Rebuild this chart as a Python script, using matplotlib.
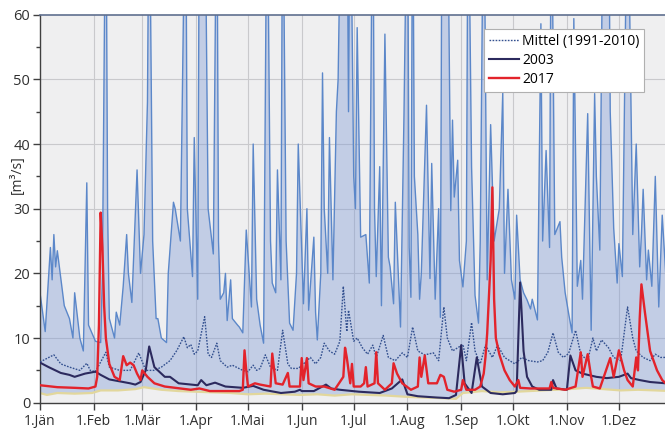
import matplotlib
matplotlib.use("Agg")
import matplotlib.pyplot as plt
from matplotlib.ticker import MultipleLocator

# ---------------- data (day of year, m3/s) ----------------
max_days = [0, 3, 6, 7, 8, 9, 10, 14, 17, 19,
            20, 23, 25, 27, 28, 32, 35, 36, 38, 39,
            40, 43, 44, 46, 48, 50, 51, 53, 56, 58,
            60, 62, 63, 65, 67, 68, 70, 73, 74, 77,
            78, 81, 84, 85, 88, 89, 91, 92, 95, 97,
            100, 102, 103, 104, 106, 107, 108, 110, 111, 114,
            115, 117, 119, 122, 123, 125, 127, 129, 131, 133,
            134, 136, 137, 139, 140, 142, 144, 146, 148, 149,
            152, 154, 155, 158, 159, 160, 162, 163, 164, 166,
            167, 169, 171, 172, 174, 177, 178, 179, 181, 182,
            183, 185, 188, 190, 192, 193, 194, 196, 197, 199,
            201, 202, 204, 205, 207, 208, 210, 212, 213, 214,
            215, 216, 218, 219, 220, 223, 225, 226, 228, 230,
            231, 232, 235, 237, 238, 239, 241, 242, 244, 246,
            247, 249, 251, 253, 254, 256, 258, 260, 262, 265,
            267, 268, 270, 272, 274, 275, 277, 279, 281, 283,
            284, 287, 289, 290, 292, 294, 295, 297, 300, 301,
            303, 305, 307, 308, 310, 312, 313, 316, 318, 320,
            321, 323, 325, 328, 329, 331, 333, 334, 336, 339,
            342, 344, 346, 347, 348, 350, 351, 353, 355, 357,
            359, 361, 364]
max_vals = [17, 11, 24, 19, 26, 21, 23.5, 15, 13, 10,
            17, 10, 8, 34, 12, 9.5, 9.3, 20, 85, 30,
            13, 10, 14, 12, 18, 26, 20, 15.5, 36, 20,
            26, 46.5, 85, 25, 13, 13, 10, 9.3, 20, 31,
            30, 25, 85, 30, 19.5, 41, 16, 85, 85, 30,
            23, 85, 25, 16, 17, 20, 12.7, 19, 13, 12,
            11.7, 10.8, 26.7, 14.8, 40, 16, 12, 9.2, 85, 25,
            18.5, 17, 36, 19, 85, 25, 12.3, 11.2, 20, 40,
            15.3, 30, 14.3, 25.6, 14, 9.7, 20, 51, 30, 20,
            41, 19, 45, 50, 85, 85, 45, 85, 35, 30,
            58, 25.6, 26, 18.5, 85, 30, 19.5, 36.5, 15, 57,
            22.5, 21, 15.3, 31, 18, 11.7, 44.5, 85, 24, 16.3,
            85, 35, 26, 16, 20, 46, 19.2, 37, 16, 30,
            13.2, 85, 85, 29.7, 43.7, 31.8, 37.5, 22, 17.9, 25,
            85, 36.5, 16.6, 12.3, 25, 85, 19, 43, 25, 30,
            48, 20, 33, 19, 16, 29, 19, 17, 15.9, 14.5,
            16, 12.8, 58.6, 25, 39, 24, 85, 26, 28, 22.5,
            17, 13.8, 10.8, 59.4, 18, 22, 16, 44.7, 11.2, 47.8,
            35, 23.6, 85, 85, 45, 27, 18.5, 24.6, 19.5, 85,
            26, 40, 21, 26, 33, 19, 23.6, 18, 35, 14.8,
            29, 20, 18]

min_days = [0, 4, 10, 20, 30, 35, 45, 55, 60, 70,
            80, 90, 100, 110, 120, 130, 140, 150, 160, 170,
            180, 190, 200, 212, 222, 232, 240, 244, 255, 265,
            275, 290, 305, 315, 325, 335, 345, 355, 364]
min_vals = [1.5, 1.2, 1.5, 1.4, 1.5, 1.9, 1.9, 2.1, 2.4, 2.0,
            1.8, 1.7, 1.6, 1.5, 1.3, 1.4, 1.3, 1.2, 1.3, 1.1,
            1.3, 1.2, 1.1, 0.9, 0.8, 0.7, 0.6, 1.5, 1.8, 1.6,
            1.7, 1.9, 2.1, 2.3, 2.1, 1.9, 2.0, 1.9, 1.8]

mean_days = [0, 8, 12, 17, 23, 27, 29, 32, 38, 40,
             46, 52, 57, 61, 66, 70, 75, 79, 83, 85,
             87, 89, 91, 95, 97, 99, 102, 104, 108, 111,
             117, 120, 123, 125, 127, 130, 133, 137, 140, 143,
             145, 149, 152, 156, 159, 162, 164, 167, 170, 173,
             175, 177, 178, 181, 183, 186, 189, 192, 194, 198,
             201, 205, 209, 212, 215, 218, 222, 227, 230, 233,
             235, 238, 241, 244, 246, 249, 251, 254, 257, 261,
             264, 268, 271, 274, 278, 282, 287, 290, 293, 296,
             299, 302, 305, 309, 312, 316, 319, 321, 324, 328,
             331, 335, 339, 342, 344, 348, 352, 355, 358, 361,
             364]
mean_vals = [6.3, 7.4, 6, 5.5, 5, 6.1, 5, 4.8, 7.8, 5.5,
             5, 5, 7.7, 5, 5, 5.5, 6.5, 8.1, 10.2, 8.5,
             9, 7.5, 8, 13.3, 7.5, 7, 9.2, 6.5, 5.5, 5.8,
             5, 4.8, 5.8, 5, 5.3, 7.4, 5.5, 5, 11.2, 6,
             5.3, 5.3, 6, 7, 6, 7, 9.2, 8, 7.5, 9.5,
             18, 11, 14.3, 9.5, 10, 8.5, 7.5, 8.9, 7, 10.4,
             7, 6.5, 7.7, 7, 11.7, 8, 7.4, 7.7, 6.5, 14.8,
             10, 8, 8.5, 9, 6.5, 12.4, 8, 6, 8.9, 7,
             8.9, 7, 6.5, 6, 7, 6.5, 6.3, 6.5, 7.8, 10.8,
             7.8, 7, 7.6, 11.2, 7.5, 6.5, 10, 8, 9.7, 8.5,
             7, 6.5, 14.8, 10, 8, 7, 6.5, 7.5, 7, 7,
             7]

y2003_days = [0, 5, 12, 17, 20, 26, 32, 35, 40, 46,
              52, 55, 58, 61, 63, 66, 72, 75, 80, 91,
              93, 96, 101, 107, 117, 123, 129, 133, 139, 147,
              150, 151, 158, 165, 168, 173, 184, 196, 203, 209,
              212, 218, 229, 236, 240, 243, 245, 249, 252, 255,
              260, 267, 274, 275, 277, 279, 281, 284, 288, 295,
              296, 298, 304, 306, 309, 313, 321, 327, 334, 339,
              341, 346, 352, 361, 364]
y2003_vals = [6.2, 5.5, 4.6, 4.3, 4, 4.5, 4.8, 4.3, 3.6, 3.3,
              3, 2.8, 3.2, 5, 8.7, 5.5, 4, 4, 3, 2.7,
              3.5, 2.7, 3.1, 2.5, 2.3, 2.6, 2, 1.8, 1.5, 1.7,
              2, 1.8, 1.8, 2.8, 2.2, 2, 1.7, 1.5, 2.2, 3.6,
              1.3, 1, 0.8, 0.7, 1.2, 8.9, 3, 1.5, 7, 2.5,
              1.5, 1.3, 1.5, 1.8, 18.6, 8, 4, 2.5, 2, 2,
              3.5, 2.2, 2, 7.3, 5, 4.5, 4, 3.8, 4, 4.5,
              3.8, 3.5, 3.2, 3, 2.8]

y2017_days = [0, 10, 20, 28, 32, 33, 34, 35, 36, 37,
              38, 40, 43, 46, 48, 50, 52, 54, 56, 58,
              59, 62, 66, 72, 81, 87, 92, 98, 115, 117,
              118, 119, 120, 124, 127, 133, 134, 136, 140, 143,
              144, 150, 151, 152, 154, 155, 159, 164, 170, 175,
              176, 177, 179, 180, 181, 185, 187, 188, 189, 193,
              194, 195, 199, 203, 204, 206, 209, 214, 218, 219,
              220, 222, 224, 229, 231, 233, 235, 239, 243, 244,
              246, 251, 254, 256, 257, 258, 260, 261, 262, 263,
              265, 268, 271, 274, 276, 277, 283, 294, 295, 296,
              303, 309, 312, 313, 316, 318, 319, 323, 329, 331,
              334, 337, 339, 342, 344, 345, 346, 347, 349, 352,
              356, 359, 361, 364]
y2017_vals = [2.7, 2.4, 2.3, 2.2, 2.5, 4, 12, 29.4, 24, 15,
              10, 6, 4, 3.5, 7.2, 5.8, 6.2, 5.8, 4.5, 3.5,
              5, 4, 3, 2.5, 2.2, 2, 2.2, 1.8, 1.8, 2,
              8.1, 5, 2.5, 3, 2.8, 2.5, 7.6, 3, 2.8, 4.6,
              2.5, 2.5, 6.9, 3.5, 6.9, 3, 2.5, 2.5, 2, 4,
              8.5, 7, 3, 6, 2.5, 2.5, 3, 5.5, 2.5, 3,
              7.8, 3, 2, 3, 6.1, 4.5, 3, 2, 2.5, 7,
              4, 7.3, 3, 3, 4.3, 4, 2, 1.7, 2, 3.5,
              2, 2, 2.5, 4.5, 7, 10.7, 22, 33.3, 16, 10,
              7.5, 5, 3.5, 2.5, 3.5, 2.3, 2.2, 2.2, 3.2, 2.3,
              2, 2.5, 7.8, 4, 7.5, 4, 2.5, 2.2, 6.9, 4,
              8.1, 5, 3.5, 2.5, 7, 5, 13, 18.3, 14, 8,
              5, 3.5, 3, 2.8]

month_starts = [0, 31, 59, 90, 120, 151, 181, 212, 243, 273, 304, 334]
month_labels = ['1.Jän', '1.Feb', '1.Mär', '1.Apr', '1.Mai', '1.Jun',
                '1.Jul', '1.Aug', '1.Sep', '1.Okt', '1.Nov', '1.Dez']
legend_labels = ['Mittel (1991-2010)', '2003', '2017']
y_label = '[m³/s]'

# ---------------- figure ----------------
plt.rcParams['font.family'] = ['Open Sans', 'DejaVu Sans']
fig = plt.figure(figsize=(6.65, 4.32), dpi=100)
ax = fig.add_axes([40 / 665, 1 - 402.7 / 432, 1 - 40 / 665, (402.7 - 14.7) / 432])
ax.set_facecolor('#efeff0')

ax.set_xlim(0, 360.6)
ax.set_ylim(0, 60)

# grid
for m in month_starts[1:]:
    ax.axvline(m, color='#c9c9cc', lw=0.8, zorder=0.5)
for v in range(10, 60, 10):
    ax.axhline(v, color='#c9c9cc', lw=0.8, zorder=0.5)

# envelope between min and max
ax.fill(list(max_days) + list(min_days[::-1]),
        list(max_vals) + list(min_vals[::-1]),
        facecolor='#7f9ad6', alpha=0.40, edgecolor='none', zorder=1)
ax.plot(max_days, max_vals, color='#5b87c9', lw=1.0, zorder=2)
ax.plot(min_days, min_vals, color='#e2d79c', lw=1.6, zorder=2)

l1, = ax.plot(mean_days, mean_vals, color='#33508f', lw=1.0,
              linestyle=(0, (1.2, 1.0)), zorder=3)
l2, = ax.plot(y2003_days, y2003_vals, color='#2c2a5e', lw=1.5, zorder=4)
l3, = ax.plot(y2017_days, y2017_vals, color='#e3232b', lw=1.7, zorder=5)

# axes styling
ax.set_xticks(month_starts)
ax.set_xticklabels(month_labels)
ax.yaxis.set_major_locator(MultipleLocator(10))
ax.yaxis.set_minor_locator(MultipleLocator(5))
ax.tick_params(axis='x', direction='out', length=5, width=1, color='#404040',
               labelsize=10, pad=3, labelcolor='#303030')
ax.tick_params(axis='y', which='major', direction='out', length=5, width=1,
               color='#404040', labelsize=10.5, pad=2, labelcolor='#303030')
ax.tick_params(axis='y', which='minor', direction='out', length=3, width=1,
               color='#404040')
for s in ['left', 'bottom']:
    ax.spines[s].set_color('#404040')
    ax.spines[s].set_linewidth(1.0)
ax.spines['top'].set_color('#5f6f8f')
ax.spines['top'].set_linewidth(1.2)
ax.spines['right'].set_visible(False)

fig.text(17 / 665, 1 - 175 / 432, y_label, rotation=90, fontsize=10,
         color='#303030', ha='center', va='center')

leg = fig.legend([l1, l2, l3], legend_labels, loc='upper left',
                 bbox_to_anchor=(484 / 665, 1 - 29 / 432),
                 bbox_transform=fig.transFigure, fontsize=10,
                 frameon=True, fancybox=False, handlelength=2.2,
                 handletextpad=0.2, borderpad=0.35, labelspacing=0.3,
                 borderaxespad=0)
leg.get_frame().set_edgecolor('#b0b0b0')
leg.get_frame().set_linewidth(0.8)
leg.get_frame().set_facecolor('white')
leg.get_frame().set_alpha(1)

fig.savefig('out.png', dpi=100)
